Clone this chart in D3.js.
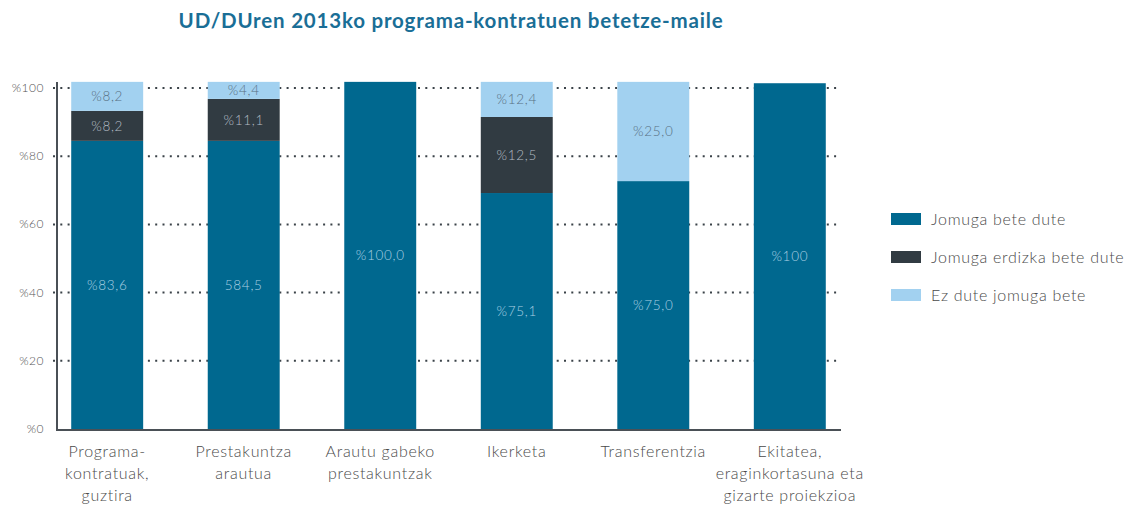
<!DOCTYPE html>
<html>
<head>
<meta charset="utf-8">
<script src="https://cdn.jsdelivr.net/npm/d3@7"></script>
<style>
  body { margin: 0; background: #fff; }
  svg { display: block; font-family: Lato, "Open Sans", sans-serif; }
</style>
</head>
<body>
<div id="chart"></div>
<script>
// data
const categories = ["Programa-\nkontratuak,\nguztira", "Prestakuntza\narautua", "Arautu gabeko\nprestakuntzak",
                    "Ikerketa", "Transferentzia", "Ekitatea,\neraginkortasuna eta\ngizarte proiekzioa"];
// bar heights as drawn
const bete = [84.5, 84.5, 101.8, 69.2, 72.7, 101.4];
const erdizka = [8.8, 12.3, 0, 22.3, 0, 0];
const ez = [8.5, 5.0, 0, 10.3, 29.1, 0];
// labels as printed in the bars
const beteLbl = ["%83,6", "584,5", "%100,0", "%75,1", "%75,0", "%100"];
const erdizkaLbl = ["%8,2", "%11,1", "", "%12,5", "", ""];
const ezLbl = ["%8,2", "%4,4", "", "%12,4", "%25,0", ""];
const yTicks = [0, 20, 40, 60, 80, 100];
const seriesNames = ["Jomuga bete dute", "Jomuga erdizka bete dute", "Ez dute jomuga bete"];

const width = 1138, height = 506;
const colors = ["#00688f", "#313b42", "#a2d1f0"];
const lblColors = ["#a9cfe2", "#b4bcc4", "#587083"];

const svg = d3.select("#chart").append("svg")
    .attr("width", width)
    .attr("height", height);

let x = d3.scaleBand()
    .domain(categories)
    .range([39, 858])
    .paddingInner(0.473)
    .paddingOuter(0.236);

let y = d3.scaleLinear()
    .domain([0, 100])
    .range([429, 88]);

// title
svg.append("text")
    .attr("x", 451)
    .attr("y", 28)
    .style("text-anchor", "middle")
    .style("font-size", "20.5px")
    .style("font-weight", 700)
    .style("letter-spacing", "0.8px")
    .attr("fill", "#1a6e96")
    .text("UD/DUren 2013ko programa-kontratuen betetze-maile");

// dotted gridlines
svg.append("g").selectAll("line")
    .data(yTicks.filter(d => d > 0))
    .enter()
    .append("line")
    .attr("x1", 53)
    .attr("x2", 841)
    .attr("y1", d => y(d))
    .attr("y2", d => y(d))
    .attr("stroke", "#3a4248")
    .attr("stroke-width", 2)
    .attr("stroke-dasharray", "2,5.3");

// tick labels
svg.append("g").selectAll("text")
    .data(yTicks)
    .enter()
    .append("text")
    .attr("x", 44)
    .attr("y", d => y(d) + 4)
    .style("text-anchor", "end")
    .style("font-size", "12px")
    .style("font-weight", 300)
    .style("letter-spacing", "0.5px")
    .attr("fill", "#555")
    .text(d => "%" + d);

// stacked bars
const rows = categories.map((c, i) => ({cat: c, bete: bete[i], erdizka: erdizka[i], ez: ez[i]}));
const keys = ["bete", "erdizka", "ez"];
const labels = {bete: beteLbl, erdizka: erdizkaLbl, ez: ezLbl};
const stacked = d3.stack().keys(keys)(rows);

stacked.forEach(function(layer, k) {
    let g = svg.append("g");
    g.selectAll("rect")
        .data(layer)
        .enter()
        .append("rect")
        .attr("x", d => x(d.data.cat))
        .attr("y", d => y(d[1]))
        .attr("width", x.bandwidth())
        .attr("height", d => y(d[0]) - y(d[1]))
        .attr("fill", colors[k]);
    g.selectAll("text")
        .data(layer)
        .enter()
        .append("text")
        .attr("x", d => x(d.data.cat) + x.bandwidth() / 2)
        .attr("y", d => (y(d[0]) + y(d[1])) / 2 + 5)
        .style("text-anchor", "middle")
        .style("font-size", "13.5px")
        .style("font-weight", 300)
        .style("letter-spacing", "0.7px")
        .attr("fill", lblColors[k])
        .text((d, i) => labels[layer.key][i]);
});

// axes lines
svg.append("line")
    .attr("x1", 57).attr("x2", 57)
    .attr("y1", 82).attr("y2", y(0) + 1)
    .attr("stroke", "#4a5056").attr("stroke-width", 2);
svg.append("line")
    .attr("x1", 56).attr("x2", 841)
    .attr("y1", y(0) + 1).attr("y2", y(0) + 1)
    .attr("stroke", "#4a5056").attr("stroke-width", 2);

// category labels
let catLabels = svg.append("g").selectAll("text")
    .data(categories)
    .enter()
    .append("text")
    .attr("x", d => x(d) + x.bandwidth() / 2)
    .attr("y", 457)
    .style("text-anchor", "middle")
    .style("font-size", "16px")
    .style("font-weight", 300)
    .style("letter-spacing", "0.7px")
    .attr("fill", "#4a4a4a");
catLabels.each(function(d) {
    d.split("\n").forEach((line, i) => {
        d3.select(this).append("tspan")
            .attr("x", x(d) + x.bandwidth() / 2)
            .attr("dy", i === 0 ? 0 : 22)
            .text(line);
    });
});

// legend
let legend = svg.append("g").selectAll("g")
    .data(seriesNames)
    .enter()
    .append("g")
    .attr("transform", (d, i) => `translate(891, ${213 + i * 38})`);
legend.append("rect")
    .attr("width", 30)
    .attr("height", 12)
    .attr("fill", (d, i) => colors[i]);
legend.append("text")
    .attr("x", 40)
    .attr("y", 11.5)
    .style("font-size", "16px")
    .style("font-weight", 300)
    .style("letter-spacing", "0.7px")
    .attr("fill", "#4a4a4a")
    .text(d => d);
</script>
</body>
</html>
